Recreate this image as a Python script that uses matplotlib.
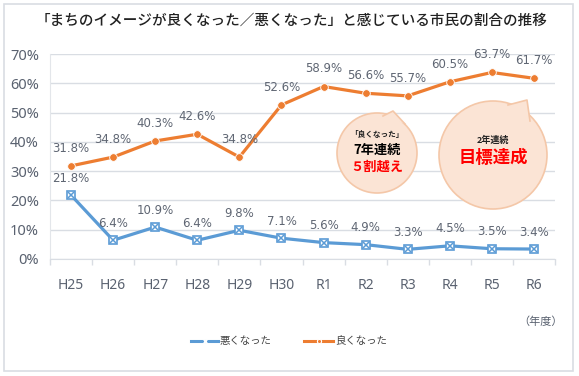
import matplotlib
matplotlib.use("Agg")
import matplotlib.pyplot as plt
from matplotlib.patches import Polygon, Rectangle, Ellipse
import numpy as np

plt.rcParams['font.family'] = ['Noto Sans CJK JP', 'DejaVu Sans']

categories = ["H25", "H26", "H27", "H28", "H29", "H30", "R1", "R2", "R3", "R4", "R5", "R6"]
bad = [21.8, 6.4, 10.9, 6.4, 9.8, 7.1, 5.6, 4.9, 3.3, 4.5, 3.5, 3.4]
good = [31.8, 34.8, 40.3, 42.6, 34.8, 52.6, 58.9, 56.6, 55.7, 60.5, 63.7, 61.7]
yticks = [0, 10, 20, 30, 40, 50, 60, 70]
title = "「まちのイメージが良くなった／悪くなった」と感じている市民の割合の推移"

W, H = 579, 376
fig = plt.figure(figsize=(W / 100, H / 100), dpi=100)
fig.patch.set_facecolor("white")

# outer frame
fig.patches.append(Rectangle((4 / W, 5 / H), 569 / W, 367 / H, transform=fig.transFigure,
                             fill=False, edgecolor="#d9dde3", linewidth=1.2))

x0, x1, ytop, ybot = 50, 555, 54, 259
ax = fig.add_axes([x0 / W, (H - ybot) / H, (x1 - x0) / W, (ybot - ytop) / H])
ax.set_facecolor("none")

x = np.arange(len(categories))
ax.set_xlim(-0.5, len(categories) - 0.5)
ax.set_ylim(0, 70)

tickfont = ['Noto Sans', 'DejaVu Sans']
ax.set_yticks(yticks)
ax.set_yticklabels([f"{v}%" for v in yticks], family=tickfont)
ax.yaxis.grid(True, color="#d9dde3", linewidth=1)
ax.set_axisbelow(True)
ax.tick_params(axis="y", length=0, pad=8, labelsize=10.5, labelcolor="#5a6270")
ax.set_xticks(x)
ax.set_xticklabels(categories, family=tickfont)
ax.tick_params(axis="x", length=0, pad=14, labelsize=10, labelcolor="#5a6270")
ax.set_xticks(np.arange(len(categories) + 1) - 0.5, minor=True)
ax.tick_params(axis="x", which="minor", length=4, color="#d9dde3", width=1)
for s in ["top", "right"]:
    ax.spines[s].set_visible(False)
ax.spines["left"].set_color("#e3e6ea")
ax.spines["bottom"].set_color("#d9dde3")

blue = "#5b9bd5"
orange = "#ed7d31"
ax.plot(x, good, color=orange, linewidth=2.3, marker="o", markersize=5.5,
        markerfacecolor=orange, markeredgecolor="white", markeredgewidth=0.6, zorder=3)
ax.plot(x, bad, color=blue, linewidth=2.3, zorder=3)
ax.plot(x, bad, linestyle="none", marker="s", markersize=5.5, markerfacecolor="white",
        markeredgecolor=blue, markeredgewidth=1.2, zorder=4)
ax.plot(x, bad, linestyle="none", marker="x", markersize=4.2, markeredgecolor=blue,
        markeredgewidth=1.1, zorder=5)

for xi, v in zip(x, good):
    ax.annotate(f"{v}%", (xi, v), xytext=(0, 8), textcoords="offset points",
                ha="center", va="bottom", fontsize=8.5, color="#5f6673", family="DejaVu Sans")
for xi, v in zip(x, bad):
    ax.annotate(f"{v}%", (xi, v), xytext=(0, 7.5), textcoords="offset points",
                ha="center", va="bottom", fontsize=8.5, color="#5f6673", family="DejaVu Sans")

fig.text(292 / W, 1 - 21 / H, title, ha="center", va="center", fontsize=10.5,
         color="#222222", fontweight="medium")
fig.text(541 / W, 1 - 322 / H, "（年度）", ha="center", va="center", fontsize=8, color="#5a6270")

# legend
ly = 1 - 341 / H
fig.add_artist(plt.Line2D([191 / W, 218 / W], [ly, ly], color=blue, linewidth=2.2,
                          transform=fig.transFigure))
fig.add_artist(plt.Line2D([204.5 / W], [ly], marker="x", markersize=3.2, color="white",
                          markeredgewidth=1.0, transform=fig.transFigure))
fig.text(220 / W, ly, "悪くなった", ha="left", va="center", fontsize=7.5, color="#444444")
fig.add_artist(plt.Line2D([304 / W, 333 / W], [ly, ly], color=orange, linewidth=2.2,
                          transform=fig.transFigure))
fig.add_artist(plt.Line2D([318.5 / W], [ly], marker="o", markersize=3, color="white",
                          markerfacecolor=orange, markeredgecolor="white", markeredgewidth=0.8,
                          transform=fig.transFigure))
fig.text(335 / W, ly, "良くなった", ha="left", va="center", fontsize=7.5, color="#444444")

# speech bubbles
fill = "#fbe4d5"
edge = "#f4c7a8"


def bubble(cx, cy, r, tail):
    e = Ellipse((cx / W, 1 - cy / H), 2 * r / W, 2 * r / H, transform=fig.transFigure,
                facecolor=fill, edgecolor=edge, linewidth=1.2, zorder=6)
    fig.patches.append(e)
    pts = [(px / W, 1 - py / H) for px, py in tail]
    p = Polygon(pts, closed=True, transform=fig.transFigure, facecolor=fill,
                edgecolor="none", zorder=7)
    fig.patches.append(p)
    fig.add_artist(plt.Line2D([pts[0][0], pts[1][0], pts[2][0]],
                              [pts[0][1], pts[1][1], pts[2][1]], color=edge, linewidth=1.2,
                              transform=fig.transFigure, zorder=8))


bubble(377, 153, 40, [(383, 116), (393, 111), (405, 124)])
bubble(493, 155, 54, [(508, 105), (527, 100), (530, 121)])

fig.text(377 / W, 1 - 134 / H, "「良くなった」", ha="center", va="center", fontsize=5.5,
         color="#222222", fontweight="bold", zorder=10)
fig.text(377 / W, 1 - 150 / H, "7年連続", ha="center", va="center", fontsize=9.5,
         color="black", fontweight="bold", zorder=10)
fig.text(377 / W, 1 - 167 / H, "５割越え", ha="center", va="center", fontsize=9.5,
         color="#ff0000", fontweight="bold", zorder=10)
fig.text(493 / W, 1 - 140 / H, "2年連続", ha="center", va="center", fontsize=6.5,
         color="#222222", fontweight="bold", zorder=10)
fig.text(493 / W, 1 - 158 / H, "目標達成", ha="center", va="center", fontsize=12.5,
         color="#ff0000", fontweight="bold", zorder=10)

fig.savefig("out.png", dpi=100)
